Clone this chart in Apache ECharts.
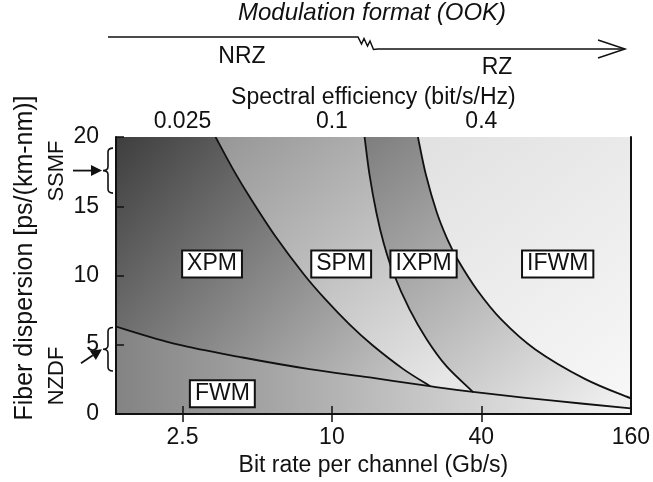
<!DOCTYPE html>
<html>
<head>
<meta charset="utf-8">
<script src="https://cdn.jsdelivr.net/npm/echarts@6/dist/echarts.min.js"></script>
<style>
  html, body { margin: 0; padding: 0; background: #fff; }
  #chart { width: 653px; height: 482px; }
</style>
</head>
<body>
<div id="chart"></div>
<script>
// ---- axes ----
const rateRange = [1.35, 160];                 // Gb/s, log scale
const dispersionRange = [0, 20];               // ps/(km-nm)
const bitRateTicks = [2.5, 10, 40, 160];
const efficiencyTickRates = [2.5, 10, 40];
const efficiencyLabels = ['0.025', '0.1', '0.4'];

// ---- regime boundaries (bit rate in Gb/s, dispersion in ps/(km-nm)) ----
const fwmRate = [1.35, 2.36, 4.37, 8.13, 14.2, 25.2, 37.0, 77.8, 160];
const fwmDisp = [6.31, 5.04, 4.08, 3.24, 2.64, 1.99, 1.60, 0.96, 0.41];
const xpmSpmRate = [3.40, 4.01, 4.74, 5.92, 7.72, 9.42, 11.77, 14.58, 19.4, 24.9];
const xpmSpmDisp = [20, 17.63, 15.47, 12.83, 10.07, 8.27, 6.47, 4.96, 3.24, 2.01];
const spmIxpmRate = [13.54, 14.18, 15.11, 16.15, 17.65, 20.55, 24.08, 28.93, 37.07];
const spmIxpmDisp = [20, 17.27, 14.53, 12.37, 10.22, 7.55, 5.40, 3.45, 1.58];
const ixpmIfwmRate = [22.21, 23.92, 26.49, 29.23, 32.10, 38.32, 48.08, 65.78, 104.9, 160];
const ixpmIfwmDisp = [20, 17.27, 14.53, 12.59, 11.15, 8.99, 6.83, 4.68, 2.52, 1.13];

// ---- regime labels ----
const regimeNames = ['XPM', 'SPM', 'IXPM', 'IFWM', 'FWM'];
const regimeRate = [3.29, 10.9, 23.4, 81.2, 3.62];
const regimeDisp = [10.83, 10.83, 10.83, 10.83, 1.47];

// ---- fiber types (dispersion ranges) ----
const fiberNames = ['SSMF', 'NZDF'];
const fiberTop = [19.2, 6.25];
const fiberBottom = [15.95, 3.1];

const FONT = '"Liberation Sans", Arial, Helvetica, sans-serif';
const lg = Math.log10;
const xMin = lg(rateRange[0]);
const xMax = lg(rateRange[1]);

function nearestLabel(v, rates, labels) {
  let best = 0;
  rates.forEach((r, i) => { if (Math.abs(lg(r) - v) < Math.abs(lg(rates[best]) - v)) best = i; });
  return labels[best];
}

// Catmull-Rom spline through pixel points, as SVG path commands
function splinePath(pts) {
  let d = 'M' + pts[0][0] + ',' + pts[0][1];
  for (let i = 0; i < pts.length - 1; i++) {
    const p0 = pts[Math.max(i - 1, 0)], p1 = pts[i], p2 = pts[i + 1];
    const p3 = pts[Math.min(i + 2, pts.length - 1)];
    const c1 = [p1[0] + (p2[0] - p0[0]) / 6, p1[1] + (p2[1] - p0[1]) / 6];
    const c2 = [p2[0] - (p3[0] - p1[0]) / 6, p2[1] - (p3[1] - p1[1]) / 6];
    d += ' C' + c1[0] + ',' + c1[1] + ' ' + c2[0] + ',' + c2[1] + ' ' + p2[0] + ',' + p2[1];
  }
  return d;
}

const boundaries = [
  [xpmSpmRate, xpmSpmDisp],
  [spmIxpmRate, spmIxpmDisp],
  [ixpmIfwmRate, ixpmIfwmDisp],
  [fwmRate, fwmDisp]
];

function curvePx(api, k) {
  const [rates, disps] = boundaries[k];
  return rates.map((r, i) => api.coord([lg(r), disps[i]]));
}

function grad(x0, y0, x1, y1, c0, c1) {
  return new echarts.graphic.LinearGradient(x0, y0, x1, y1,
    [{ offset: 0, color: c0 }, { offset: 1, color: c1 }], true);
}

// painted in order: XPM background, SPM, IXPM, IFWM, then FWM over the bottom
function renderRegion(params, api) {
  const i = params.dataIndex;
  const TL = api.coord([xMin, dispersionRange[1]]);
  const BR = api.coord([xMax, dispersionRange[0]]);
  let d, fill;
  if (i === 0) {
    d = 'M' + TL[0] + ',' + TL[1] + ' L' + BR[0] + ',' + TL[1] + ' L' + BR[0] + ',' + BR[1] +
        ' L' + TL[0] + ',' + BR[1] + ' Z';
    fill = grad(TL[0], TL[1], 400, 400, '#3e3e3e', '#c8c8c8');
  } else if (i === 1 || i === 2) {
    const pts = curvePx(api, i - 1);
    const e = pts[pts.length - 1];
    d = splinePath(pts) + ' L' + e[0] + ',' + BR[1] + ' L' + BR[0] + ',' + BR[1] +
        ' L' + BR[0] + ',' + TL[1] + ' Z';
    fill = i === 1
      ? grad(pts[0][0], TL[1], 430, 390, '#969696', '#e6e6e6')
      : grad(pts[0][0], TL[1], 600, 410, '#7e7e7e', '#eeeeee');
  } else if (i === 3) {
    const pts = curvePx(api, 2);
    d = splinePath(pts) + ' L' + BR[0] + ',' + TL[1] + ' Z';
    fill = grad(pts[0][0], TL[1], BR[0], BR[1], '#e1e1e1', '#f8f8f8');
  } else {
    const pts = curvePx(api, 3);
    d = splinePath(pts) + ' L' + BR[0] + ',' + BR[1] + ' L' + TL[0] + ',' + BR[1] + ' Z';
    fill = grad(TL[0], BR[1], BR[0], BR[1], '#838383', '#f4f4f4');
  }
  return { type: 'path', shape: { pathData: d }, style: { fill: fill, stroke: null } };
}

function renderBoundary(params, api) {
  return {
    type: 'path',
    shape: { pathData: splinePath(curvePx(api, params.dataIndex)) },
    style: { fill: null, stroke: '#111', lineWidth: 1.8 }
  };
}

// arrow tail offsets from the tip, per fiber
const arrowTail = [[-29, 0], [-21, 14]];

function renderFiber(params, api) {
  const i = params.dataIndex;
  const x0 = api.coord([xMin, 0])[0];
  const yt = api.coord([xMin, api.value(1)])[1];
  const yb = api.coord([xMin, api.value(2)])[1];
  const ym = (yt + yb) / 2;
  const xr = x0 - 3, xm = x0 - 8, xt = x0 - 13, r = 4;
  const brace = 'M' + xr + ',' + yt + ' Q' + xm + ',' + yt + ' ' + xm + ',' + (yt + r) +
    ' L' + xm + ',' + (ym - r) + ' Q' + xm + ',' + ym + ' ' + xt + ',' + ym +
    ' Q' + xm + ',' + ym + ' ' + xm + ',' + (ym + r) + ' L' + xm + ',' + (yb - r) +
    ' Q' + xm + ',' + yb + ' ' + xr + ',' + yb;
  const tip = [xt - 1, ym];
  const tail = [tip[0] + arrowTail[i][0], tip[1] + arrowTail[i][1]];
  const len = Math.hypot(tip[0] - tail[0], tip[1] - tail[1]);
  const ux = (tip[0] - tail[0]) / len, uy = (tip[1] - tail[1]) / len;
  const hl = 11, hw = 5.5;
  const base = [tip[0] - ux * hl, tip[1] - uy * hl];
  return {
    type: 'group',
    children: [
      { type: 'path', shape: { pathData: brace }, style: { fill: null, stroke: '#111', lineWidth: 1.6 } },
      { type: 'line', shape: { x1: tail[0], y1: tail[1], x2: base[0], y2: base[1] },
        style: { stroke: '#111', lineWidth: 1.8 } },
      { type: 'polygon', shape: { points: [tip, [base[0] - uy * hw, base[1] + ux * hw], [base[0] + uy * hw, base[1] - ux * hw]] },
        style: { fill: '#111' } }
    ]
  };
}

const axisLine = { show: true, lineStyle: { color: '#111', width: 2 } };
const tickStyle = { color: '#111', width: 1.5 };
const labelText = { color: '#111', fontSize: 23, fontFamily: FONT };

const chart = echarts.init(document.getElementById('chart'), null, { renderer: 'canvas' });
chart.setOption({
  animation: false,
  backgroundColor: '#fff',
  grid: { left: 116, top: 137, right: 22, bottom: 67, containLabel: false },
  xAxis: [
    {
      type: 'value', position: 'bottom', min: xMin, max: xMax, z: 10,
      axisLine: axisLine,
      axisTick: { show: true, inside: true, length: 8, lineStyle: tickStyle,
        customValues: bitRateTicks.slice(0, 3).map(lg) },
      axisLabel: Object.assign({ margin: 12, customValues: bitRateTicks.map(lg),
        formatter: v => String(nearestLabel(v, bitRateTicks, bitRateTicks)) }, labelText),
      splitLine: { show: false },
      name: 'Bit rate per channel (Gb/s)', nameLocation: 'middle', nameGap: 40, nameMoveOverlap: false,
      nameTextStyle: { color: '#111', fontSize: 23, fontFamily: FONT }
    },
    {
      type: 'value', position: 'top', min: xMin, max: xMax, z: 10,
      axisLine: axisLine,
      axisTick: { show: true, inside: true, length: 8, lineStyle: tickStyle,
        customValues: efficiencyTickRates.map(lg) },
      axisLabel: Object.assign({ margin: 4, customValues: efficiencyTickRates.map(lg),
        formatter: v => nearestLabel(v, efficiencyTickRates, efficiencyLabels) }, labelText),
      splitLine: { show: false },
      name: 'Spectral efficiency (bit/s/Hz)', nameLocation: 'middle', nameGap: 28, nameMoveOverlap: false,
      nameTextStyle: { color: '#111', fontSize: 23, fontFamily: FONT }
    }
  ],
  yAxis: [
    {
      type: 'value', position: 'left', min: dispersionRange[0], max: dispersionRange[1], interval: 5, z: 10,
      axisLine: axisLine,
      axisTick: { show: true, inside: true, length: 8, lineStyle: tickStyle },
      axisLabel: Object.assign({ margin: 17 }, labelText),
      splitLine: { show: false }
    },
    {
      type: 'value', position: 'right', min: dispersionRange[0], max: dispersionRange[1], z: 10,
      axisLine: axisLine, axisTick: { show: false }, axisLabel: { show: false }, splitLine: { show: false }
    }
  ],
  series: [
    { type: 'custom', name: 'regimes', renderItem: renderRegion, clip: true, silent: true, z: 1,
      data: regimeNames.map(() => [xMin, 0]) },
    { type: 'custom', name: 'boundaries', renderItem: renderBoundary, clip: true, silent: true, z: 2,
      data: boundaries.map(() => [xMin, 0]) },
    { type: 'custom', name: 'fibers', renderItem: renderFiber, clip: false, silent: true, z: 3,
      encode: { x: 0, y: 1 },
      data: fiberNames.map((n, i) => [xMin, fiberTop[i], fiberBottom[i]]) },
    { type: 'scatter', name: 'labels', silent: true, z: 4, symbol: 'rect', symbolSize: 1,
      itemStyle: { color: '#fff', opacity: 1 },
      label: { show: true, position: 'inside', formatter: '{b}', color: '#111', fontSize: 23, fontFamily: FONT,
        backgroundColor: '#fff', borderColor: '#111', borderWidth: 2, padding: [2, 4, 0, 4], opacity: 1 },
      data: regimeNames.map((n, i) => ({ name: n, value: [lg(regimeRate[i]), regimeDisp[i]] })) }
  ],
  graphic: [
    { type: 'text', x: 25, y: 258, rotation: Math.PI / 2,
      style: { text: 'Fiber dispersion [ps/(km-nm)]', font: '25px ' + FONT, fill: '#111', align: 'center', verticalAlign: 'middle' } },
    { type: 'text', x: 57, y: 171, rotation: Math.PI / 2,
      style: { text: fiberNames[0], font: '22px ' + FONT, fill: '#111', align: 'center', verticalAlign: 'middle' } },
    { type: 'text', x: 57, y: 376, rotation: Math.PI / 2,
      style: { text: fiberNames[1], font: '22px ' + FONT, fill: '#111', align: 'center', verticalAlign: 'middle' } },
    { type: 'text', x: 372, y: 13,
      style: { text: 'Modulation format (OOK)', font: 'italic 24px ' + FONT, fill: '#111', align: 'center', verticalAlign: 'middle' } },
    { type: 'polyline',
      shape: { points: [[108, 37], [358, 37], [361.5, 44], [364, 38.5], [367.5, 46], [370, 41], [373.5, 49.5], [378, 49], [625, 49]] },
      style: { stroke: '#111', lineWidth: 1.5, fill: null } },
    { type: 'polyline', shape: { points: [[598, 40], [625, 49], [598, 58]] },
      style: { stroke: '#111', lineWidth: 1.5, fill: null } },
    { type: 'text', x: 242, y: 57,
      style: { text: 'NRZ', font: '23px ' + FONT, fill: '#111', align: 'center', verticalAlign: 'middle' } },
    { type: 'text', x: 497, y: 68,
      style: { text: 'RZ', font: '23px ' + FONT, fill: '#111', align: 'center', verticalAlign: 'middle' } }
  ]
});
</script>
</body>
</html>
